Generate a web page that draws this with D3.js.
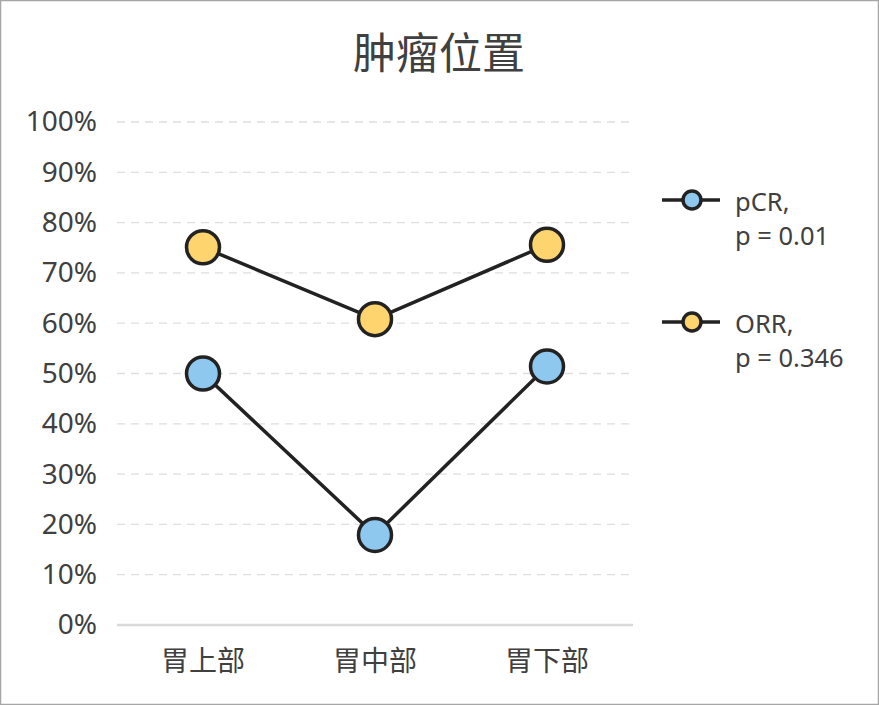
<!DOCTYPE html>
<html>
<head>
<meta charset="utf-8">
<script src="https://cdn.jsdelivr.net/npm/d3@7"></script>
<style>
body{margin:0;background:#fff;}
text{font-family:"Noto Sans","Noto Sans CJK SC",sans-serif;fill:#404040;}
</style>
</head>
<body>
<div id="content"></div>
<script>
// chart data
var categories=['胃上部','胃中部','胃下部'];
var pcrValues=[50.0,17.9,51.4];
var orrValues=[75.1,60.8,75.6];
var yTicks=[0,10,20,30,40,50,60,70,80,90,100];
var seriesNames=['pCR','ORR'];
var seriesNotes=['p = 0.01','p = 0.346'];
var seriesColors=['#8ec8ee','#fed46e'];

var svg_width=879;
var svg_height=705;
var margin={top:122,right:246,bottom:80,left:117};
var chart_width=svg_width-margin.left-margin.right;
var chart_height=625-margin.top;

var svg=d3.select('#content').append('svg')
	.attr('width',svg_width).attr('height',svg_height);

svg.append('rect')
	.attr('x',0.5).attr('y',0.5)
	.attr('width',svg_width-1).attr('height',svg_height-1)
	.attr('fill','#fff').attr('stroke','#a6a6a6').attr('stroke-width',1.5);

svg.append('text')
	.attr('x',439).attr('y',69)
	.attr('text-anchor','middle')
	.style('font-family','"Noto Sans CJK SC",sans-serif')
	.style('font-size','43px')
	.text('肿瘤位置');

var xScale=d3.scaleBand().domain(categories).range([0,chart_width]);
var yScale=d3.scaleLinear().domain([0,100]).range([chart_height,0]);

var g=svg.append('g').attr('transform','translate('+margin.left+','+margin.top+')');

//gridlines
g.selectAll('.grid')
	.data(yTicks.filter(function(d){return d>0;}))
	.enter().append('line')
	.attr('x1',0).attr('x2',chart_width)
	.attr('y1',function(d){return yScale(d);})
	.attr('y2',function(d){return yScale(d);})
	.attr('stroke','#dedede').attr('stroke-width',1.3)
	.attr('stroke-dasharray','8,6');

g.append('line')
	.attr('x1',0).attr('x2',chart_width)
	.attr('y1',yScale(0)).attr('y2',yScale(0))
	.attr('stroke','#d9d9d9').attr('stroke-width',2.5);

//y axis labels
var yAxis=g.append('g').call(d3.axisLeft(yScale).tickValues(yTicks).tickSize(0).tickPadding(20).tickFormat(function(d){return d+'%';}));
yAxis.select('.domain').remove();
yAxis.selectAll('text').style('font-size','28px').style('fill','#404040')
	.style('font-family','"Noto Sans",sans-serif');

//x axis labels
var xAxis=g.append('g').attr('transform','translate(0,'+chart_height+')')
	.call(d3.axisBottom(xScale).tickSize(0).tickPadding(26));
xAxis.select('.domain').remove();
xAxis.selectAll('text').style('font-size','28px').style('fill','#404040')
	.style('font-family','"Noto Sans CJK SC",sans-serif');

var allSeries=[pcrValues,orrValues];
var line=d3.line()
	.x(function(d,i){return xScale(categories[i])+xScale.bandwidth()/2;})
	.y(function(d){return yScale(d);});

allSeries.forEach(function(values,s){
	g.append('path')
		.datum(values)
		.attr('d',line)
		.attr('fill','none')
		.attr('stroke','#222')
		.attr('stroke-width',3.5);
	g.selectAll('.pt'+s)
		.data(values)
		.enter().append('circle')
		.attr('cx',function(d,i){return xScale(categories[i])+xScale.bandwidth()/2;})
		.attr('cy',function(d){return yScale(d);})
		.attr('r',16.5)
		.attr('fill',seriesColors[s])
		.attr('stroke','#222')
		.attr('stroke-width',3.5);
});

//legend
var legend=svg.selectAll('.legend')
	.data(seriesNames)
	.enter().append('g')
	.attr('transform',function(d,i){return 'translate(662,'+(200+i*122)+')';});

legend.append('line')
	.attr('x1',0).attr('x2',58).attr('y1',0).attr('y2',0)
	.attr('stroke','#222').attr('stroke-width',3.5);
legend.append('circle')
	.attr('cx',30).attr('cy',0).attr('r',9)
	.attr('fill',function(d,i){return seriesColors[i];})
	.attr('stroke','#222').attr('stroke-width',3.5);
legend.append('text')
	.attr('x',73).attr('y',11)
	.style('font-size','25.5px')
	.text(function(d){return d+',';});
legend.append('text')
	.attr('x',73).attr('y',45)
	.style('font-size','25.5px')
	.text(function(d,i){return seriesNotes[i];});
</script>
</body>
</html>
